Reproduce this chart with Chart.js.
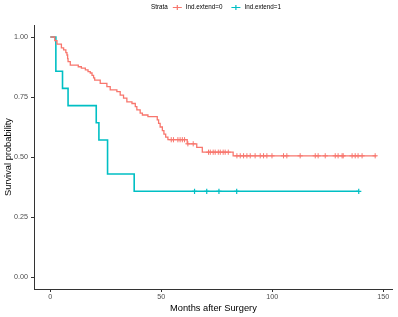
<!DOCTYPE html>
<html>
<head>
<meta charset="utf-8">
<script src="https://cdn.jsdelivr.net/npm/chart.js@4"></script>
<style>
  html, body { margin: 0; padding: 0; background: #fff; }
  #wrap { width: 398px; height: 317px; position: relative; }
</style>
</head>
<body>
<div id="wrap"><canvas id="c" width="398" height="317"></canvas></div>
<script>
// ---- data ----
const strataTitle = 'Strata';
const seriesLabels = ['Ind.extend=0', 'Ind.extend=1'];
const xTicks = [0, 50, 100, 150];
const yTicks = [0, 0.25, 0.5, 0.75, 1.0];

const redTimes = [0, 2, 3, 5, 6, 7, 7.5, 7.8, 8, 9, 12.6, 14, 15.8, 17, 18, 18.8, 19.5, 20, 22.5, 25.5, 27, 30, 31.5, 33, 34.5, 36.8, 38.3, 39, 40.5, 41.5, 44, 48.2, 48.8, 49.5, 50.5, 51.2, 52, 53, 61.7, 66, 68.5, 82.4, 147];
const redSurv  = [1, 0.985, 0.97, 0.955, 0.946, 0.935, 0.925, 0.91, 0.897, 0.883, 0.876, 0.87, 0.863, 0.856, 0.85, 0.84, 0.83, 0.82, 0.807, 0.793, 0.78, 0.772, 0.758, 0.745, 0.73, 0.723, 0.71, 0.696, 0.683, 0.675, 0.668, 0.655, 0.64, 0.625, 0.61, 0.595, 0.583, 0.572, 0.555, 0.54, 0.52, 0.505, 0.505];
const redCensor = [54.5, 55.5, 57.5, 58.5, 59.5, 60.5, 62, 64.4, 71.3, 72.1, 73.4, 74.3, 75.7, 76.6, 77.9, 78.8, 80.2, 84.1, 85.6, 87.1, 88.6, 90.1, 92.3, 94.6, 96.1, 97.6, 99.9, 105.1, 106.6, 112.6, 119.4, 120.7, 123.9, 128.4, 129.7, 131.5, 132, 136, 137.4, 138.7, 140.5, 146.4];

const blueTimes = [0, 2.5, 5.5, 8, 20.7, 21.9, 25.8, 37.8, 139];
const blueSurv  = [1, 0.857, 0.786, 0.714, 0.643, 0.571, 0.429, 0.357, 0.357];
const blueCensor = [65, 70.5, 76, 84, 139];

const colors = ['#F8766D', '#00BFC4'];

// ---- helpers ----
function survAt(times, surv, t) {
  let s = surv[0];
  for (let i = 0; i < times.length; i++) if (times[i] <= t) s = surv[i];
  return s;
}
const toPts = (ts, ss) => ts.map((t, i) => ({x: t, y: ss[i]}));
const censorPts = (cs, ts, ss) => cs.map(t => ({x: t, y: survAt(ts, ss, t)}));

const FONT = "'Liberation Sans', Arial, sans-serif";

const legendPlugin = {
  id: 'ggLegend',
  afterDraw(chart) {
    const ctx = chart.ctx;
    ctx.save();
    ctx.font = '6.3px ' + FONT;
    ctx.textBaseline = 'middle';
    const symW = 9, gapT = 5, gapS = 4, gapI = 9;
    let total = ctx.measureText(strataTitle).width + gapT;
    seriesLabels.forEach((l, i) => {
      total += symW + gapS + ctx.measureText(l).width + (i < seriesLabels.length - 1 ? gapI : 0);
    });
    let x = 216 - total / 2;
    const y = 7.5;
    ctx.fillStyle = '#000';
    ctx.fillText(strataTitle, x, y);
    x += ctx.measureText(strataTitle).width + gapT;
    seriesLabels.forEach((l, i) => {
      ctx.strokeStyle = colors[i];
      ctx.lineWidth = 1.2;
      ctx.beginPath();
      ctx.moveTo(x, y); ctx.lineTo(x + symW, y);
      ctx.moveTo(x + symW / 2, y - 2.5); ctx.lineTo(x + symW / 2, y + 2.5);
      ctx.stroke();
      x += symW + gapS;
      ctx.fillStyle = '#000';
      ctx.fillText(l, x, y);
      x += ctx.measureText(l).width + gapI;
    });
    ctx.restore();
  }
};

new Chart(document.getElementById('c'), {
  type: 'line',
  data: {
    datasets: [
      { label: seriesLabels[0], data: toPts(redTimes, redSurv), borderColor: colors[0], borderWidth: 1.3,
        stepped: 'before', pointRadius: 0, fill: false },
      { label: seriesLabels[1], data: toPts(blueTimes, blueSurv), borderColor: colors[1], borderWidth: 1.6,
        stepped: 'before', pointRadius: 0, fill: false },
      { label: 'c0', data: censorPts(redCensor, redTimes, redSurv), showLine: false, pointStyle: 'cross',
        pointRadius: 2.6, pointBorderWidth: 1, borderColor: colors[0], backgroundColor: colors[0] },
      { label: 'c1', data: censorPts(blueCensor, blueTimes, blueSurv), showLine: false, pointStyle: 'cross',
        pointRadius: 2.6, pointBorderWidth: 1.2, borderColor: colors[1], backgroundColor: colors[1] }
    ]
  },
  options: {
    responsive: false,
    animation: false,
    layout: { padding: { top: 25, right: 5, left: 0, bottom: 0 } },
    plugins: { legend: { display: false }, tooltip: { enabled: false } },
    scales: {
      x: {
        type: 'linear', min: -7.35, max: 154.35,
        afterBuildTicks: s => { s.ticks = xTicks.map(v => ({value: v})); },
        afterFit: s => { s.height = 28; },
        ticks: { font: { size: 7.2, family: FONT }, color: '#4d4d4d', padding: 1, maxRotation: 0,
                 callback: v => String(v) },
        grid: { drawOnChartArea: false, drawTicks: true, tickLength: 3, color: '#333', lineWidth: 1 },
        border: { display: true, color: '#333', width: 1 },
        title: { display: true, text: 'Months after Surgery', color: '#000',
                 font: { size: 9.3, family: FONT }, padding: { top: 0, bottom: 3 } }
      },
      y: {
        type: 'linear', min: -0.05, max: 1.05,
        afterBuildTicks: s => { s.ticks = yTicks.map(v => ({value: v})); },
        afterFit: s => { s.width = 34; },
        ticks: { font: { size: 7.2, family: FONT }, color: '#4d4d4d', padding: 3,
                 callback: v => Number(v).toFixed(2) },
        grid: { drawOnChartArea: false, drawTicks: true, tickLength: 3, color: '#333', lineWidth: 1 },
        border: { display: true, color: '#333', width: 1 },
        title: { display: true, text: 'Survival probability', color: '#000',
                 font: { size: 9.3, family: FONT }, padding: { top: 2.4, bottom: 0 } }
      }
    }
  },
  plugins: [legendPlugin]
});
</script>
</body>
</html>
